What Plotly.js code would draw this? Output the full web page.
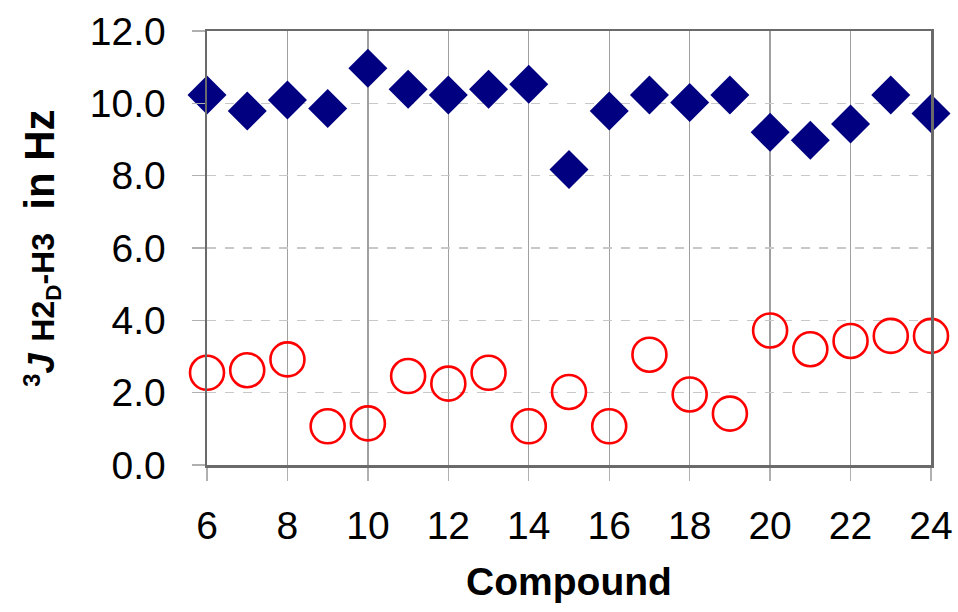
<!DOCTYPE html>
<html>
<head>
<meta charset="utf-8">
<script src="https://cdn.plot.ly/plotly-3.0.1.min.js"></script>
<style>html,body{margin:0;padding:0;background:#fff;}#chart{width:958px;height:612px;}</style>
</head>
<body>
<div id="chart"></div>
<script>
const compounds = [6,7,8,9,10,11,12,13,14,15,16,17,18,19,20,21,22,23,24];
const diamondValues = [10.23,9.79,10.09,9.86,10.97,10.39,10.23,10.39,10.53,8.17,9.79,10.23,10.02,10.23,9.20,8.98,9.43,10.23,9.72];
const circleValues = [2.55,2.62,2.92,1.07,1.15,2.46,2.25,2.55,1.07,2.02,1.07,3.05,1.95,1.42,3.72,3.20,3.43,3.57,3.57];
const xTicks = [6,8,10,12,14,16,18,20,22,24];
const yTicks = [0,2,4,6,8,10,12];
const yTickLabels = ['0.0','2.0','4.0','6.0','8.0','10.0','12.0'];

const traces = [
  {x: compounds, y: diamondValues, type:'scatter', mode:'markers', cliponaxis:false,
   marker:{symbol:'diamond', size:30, color:'#000080', line:{width:0}}},
  {x: compounds, y: circleValues, type:'scatter', mode:'markers', cliponaxis:false,
   marker:{symbol:'circle-open', size:34, color:'#ff0000', line:{width:2.6, color:'#ff0000'}}}
];

const layout = {
  width:958, height:612,
  margin:{l:207, r:27, t:31, b:147},
  paper_bgcolor:'#fff', plot_bgcolor:'#fff',
  showlegend:false,
  font:{family:'"Liberation Sans", Arial, sans-serif', color:'#000'},
  xaxis:{
    range:[6,24], tickvals:xTicks, ticktext:xTicks.map(String),
    showgrid:true, gridcolor:'#a0a0a0', gridwidth:1.3,
    zeroline:false, showline:true, linecolor:'#6a6a6a', linewidth:2.5, mirror:true,
    ticks:'outside', ticklen:13, tickcolor:'#b0b0b0', tickwidth:1.3,
    ticklabelstandoff:12,
    tickfont:{size:39},
    title:{text:'<b>Compound</b>', font:{size:39}, standoff:22}
  },
  yaxis:{
    range:[0,12], tickvals:yTicks, ticktext:yTickLabels,
    showgrid:true, gridcolor:'#c8c8c8', gridwidth:1.3, griddash:'dash',
    zeroline:false, showline:true, linecolor:'#6a6a6a', linewidth:2.5, mirror:true,
    ticks:'outside', ticklen:13, tickcolor:'#b0b0b0', tickwidth:1.3,
    ticklabelstandoff:18,
    tickfont:{size:39},
    title:{text:'<b><span style="font-size:34px"><sup>3</sup></span><i><span style="font-size:36px">J</span></i> <span style="font-size:32px">H2<sub>D</sub>-H3</span>  in Hz</b>', font:{size:42}, standoff:22}
  }
};

Plotly.newPlot('chart', traces, layout, {displayModeBar:false, staticPlot:true});
</script>
</body>
</html>
